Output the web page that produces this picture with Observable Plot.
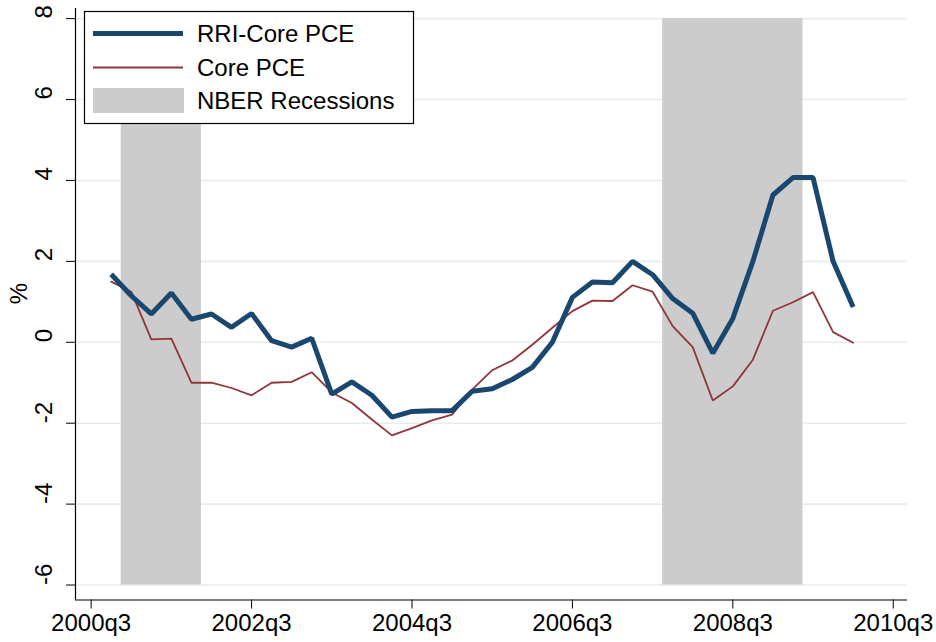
<!DOCTYPE html>
<html>
<head>
<meta charset="utf-8">
<script src="https://cdn.jsdelivr.net/npm/d3@7"></script>
<script src="https://cdn.jsdelivr.net/npm/@observablehq/plot@0.6"></script>
<style>
  html, body { margin: 0; padding: 0; background: #ffffff; }
  #wrap { position: relative; width: 936px; height: 642px; }
  #legend { position: absolute; left: 0; top: 0; pointer-events: none; }
</style>
</head>
<body>
<div id="wrap"></div>
<script>
// ---- Data ----
const quarters = [
  "2000q4","2001q1","2001q2","2001q3","2001q4",
  "2002q1","2002q2","2002q3","2002q4",
  "2003q1","2003q2","2003q3","2003q4",
  "2004q1","2004q2","2004q3","2004q4",
  "2005q1","2005q2","2005q3","2005q4",
  "2006q1","2006q2","2006q3","2006q4",
  "2007q1","2007q2","2007q3","2007q4",
  "2008q1","2008q2","2008q3","2008q4",
  "2009q1","2009q2","2009q3","2009q4",
  "2010q1"
];
const rriCorePCE = [
  1.68, 1.15, 0.70, 1.22, 0.57,
  0.70, 0.37, 0.71, 0.04,
  -0.12, 0.10, -1.28, -0.98,
  -1.31, -1.85, -1.71, -1.69,
  -1.69, -1.21, -1.15, -0.92,
  -0.62, 0.00, 1.11, 1.49,
  1.47, 2.00, 1.67, 1.08,
  0.72, -0.27, 0.59, 2.00,
  3.64, 4.07, 4.07, 2.00,
  0.87
];
const corePCE = [
  1.50, 1.25, 0.07, 0.09, -1.00,
  -1.00, -1.13, -1.31, -1.00,
  -0.98, -0.74, -1.24, -1.50,
  -1.91, -2.30, -2.12, -1.93,
  -1.79, -1.17, -0.69, -0.45,
  -0.06, 0.36, 0.77, 1.03,
  1.02, 1.41, 1.25, 0.40,
  -0.12, -1.44, -1.09, -0.43,
  0.78, 0.99, 1.24, 0.25,
  -0.01
];
const recessionStart = ["2001q1", "2007q4"];
const recessionEnd   = ["2001q4", "2009q2"];
const xTickLabels = ["2000q3","2002q3","2004q3","2006q3","2008q3","2010q3"];
const yTicks = [-6, -4, -2, 0, 2, 4, 6, 8];
const seriesNames = ["RRI-Core PCE", "Core PCE", "NBER Recessions"];
const yTitle = "%";

// ---- Helpers ----
const qIndex = s => { const [y, q] = s.split("q"); return (+y - 2000) * 4 + (+q - 3); };
const qLabel = i => xTickLabels.find(l => qIndex(l) === i) ?? "";

const data = quarters.map((q, i) => ({ t: qIndex(q), rri: rriCorePCE[i], core: corePCE[i] }));
const recessions = recessionStart.map((s, i) => ({ s: qIndex(s), e: qIndex(recessionEnd[i]) }));

const navy = "#1a476f", maroon = "#90353b", shade = "#cccccc", grid = "#e5edf0";
const font = "'Liberation Sans', Arial, sans-serif";
const fs = 24;
const xDomain = [-0.78, 40.71];
const yDomain = [-6.37, 8.25];

const chart = Plot.plot({
  width: 936,
  height: 642,
  marginLeft: 75,
  marginRight: 29,
  marginTop: 8,
  marginBottom: 42.5,
  x: { domain: xDomain },
  y: { domain: yDomain },
  style: { fontFamily: font, fontSize: fs + "px", color: "#000", background: "#fff", overflow: "visible" },
  marks: [
    Plot.gridY(yTicks, { stroke: grid, strokeOpacity: 1, strokeWidth: 1.6 }),
    Plot.rect(recessions, { x1: d => d.s - 0.5, x2: d => d.e + 0.5, y1: yTicks[0], y2: yTicks[yTicks.length - 1], fill: shade }),
    Plot.line(data, { x: "t", y: "core", stroke: maroon, strokeWidth: 1.8, strokeLinejoin: "miter" }),
    Plot.line(data, { x: "t", y: "rri", stroke: navy, strokeWidth: 5, strokeLinejoin: "miter", strokeLinecap: "butt" }),
    Plot.ruleX([xDomain[0]], { stroke: "#000", strokeWidth: 1.2 }),
    Plot.ruleY([yDomain[0]], { stroke: "#000", strokeWidth: 1.2 }),
    Plot.axisX(xTickLabels.map(qIndex), { tickSize: 9, tickPadding: 5, tickFormat: qLabel, fontSize: fs, label: null }),
    Plot.axisY(yTicks, { tickSize: 9, tickFormat: () => "", label: null }),
    Plot.text(yTicks, { y: d => d, text: d => String(d), frameAnchor: "left", dx: -31, rotate: -90, fontSize: fs }),
    Plot.text([yTitle], { text: d => d, frameAnchor: "left", dx: -56, rotate: -90, fontSize: fs })
  ]
});

const wrap = document.getElementById("wrap");
wrap.appendChild(chart);

// ---- Legend overlay (inside the plot region, top-left) ----
const NS = "http://www.w3.org/2000/svg";
const leg = document.createElementNS(NS, "svg");
leg.setAttribute("id", "legend");
leg.setAttribute("width", 936);
leg.setAttribute("height", 642);
function el(tag, attrs, text) {
  const e = document.createElementNS(NS, tag);
  for (const k in attrs) e.setAttribute(k, attrs[k]);
  if (text != null) e.textContent = text;
  leg.appendChild(e);
  return e;
}
el("rect", { x: 84.5, y: 11.5, width: 329, height: 112, fill: "#fff", stroke: "#000", "stroke-width": 1.2 });
el("line", { x1: 93, x2: 183, y1: 33.5, y2: 33.5, stroke: navy, "stroke-width": 5 });
el("line", { x1: 93, x2: 183, y1: 67.5, y2: 67.5, stroke: maroon, "stroke-width": 2 });
el("rect", { x: 93, y: 88, width: 91, height: 25, fill: shade });
const baselines = [42, 75.5, 108.5];
seriesNames.forEach((n, i) => el("text", { x: 197, y: baselines[i], "font-family": font, "font-size": fs, fill: "#000" }, n));
wrap.appendChild(leg);
</script>
</body>
</html>
